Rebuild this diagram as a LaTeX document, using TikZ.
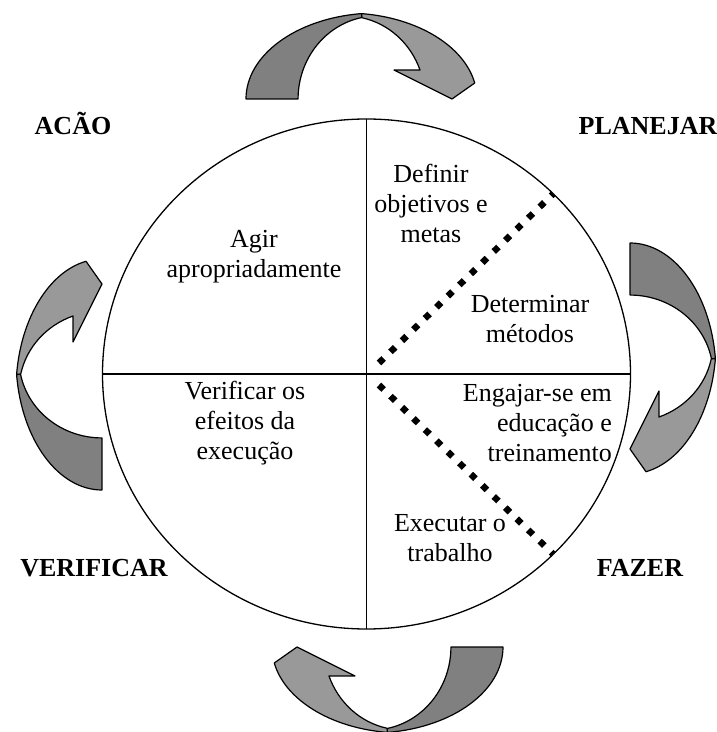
\documentclass[tikz,border=0pt]{standalone}
\usepackage{fontspec}
\setmainfont{Liberation Serif}

% one curved arrow of the cycle, drawn in its own frame
\newcommand{\turnarrow}{%
  \filldraw[darkband] (0,0) arc[start angle=180, end angle=96.8, x radius=131, y radius=86]
    -- (116,81.5) arc[start angle=101, end angle=180, x radius=79, y radius=83] -- cycle;
  \filldraw[lightband] (115.5,85.4) arc[start angle=83.2, end angle=10.7, x radius=131, y radius=86]
    -- (206,0) -- (148,29) -- (174.05,28.9)
    arc[start angle=20.4, end angle=78.3, x radius=79, y radius=83] -- cycle;
}

\begin{document}
\begin{tikzpicture}[x=1pt, y=1pt,
  darkband/.style={fill=black!50, draw=black, line width=1.2pt, line join=round},
  lightband/.style={fill=black!40, draw=black, line width=1.2pt, line join=round},
  txt/.style={font=\fontsize{26}{30}\selectfont, align=center, inner sep=0pt},
  phase/.style={font=\fontsize{26}{30}\selectfont\bfseries, inner sep=0pt, anchor=base},
  dots/.style={line width=6.5pt, dash pattern=on 6.5pt off 9.5pt}]
\useasboundingbox (0,0) rectangle (717,732);

% Circle and quadrants
\coordinate (c) at (366.5,358);
\coordinate (qt) at (366.5,613); \coordinate (qb) at (366.5,103);
\coordinate (ql) at (102.5,358); \coordinate (qr) at (630.5,358);
\draw[line width=1.3pt] (c) ellipse [x radius=264, y radius=255];
\draw[line width=1.3pt] (qt) -- (qb);
\draw[line width=1.3pt] (ql) -- (qr);

% Dotted dividers
\coordinate (d1) at (379,369); \coordinate (d2) at (553,538);
\coordinate (d3) at (379,347); \coordinate (d4) at (553,178);
\draw[dots] (d1) -- (d2);
\draw[dots] (d3) -- (d4);

% Arrows around the circle
\begin{scope}[shift={(246,633)}]
  \turnarrow
\end{scope}
\begin{scope}[shift={(630,489)}, rotate=-90]
  \turnarrow
\end{scope}
\begin{scope}[shift={(503,85)}, rotate=180]
  \turnarrow
\end{scope}
\begin{scope}[shift={(102,242)}, rotate=90]
  \turnarrow
\end{scope}

% Phases
\node[phase] (acao) at (73,597) {ACÃO};
\node[phase] (planejar) at (648,597) {PLANEJAR};
\node[phase] (verificar) at (94,155) {VERIFICAR};
\node[phase] (fazer) at (640,155) {FAZER};

% Steps
\node[txt] (agir) at (254,475) {Agir\\apropriadamente};
\node[txt] (definir) at (431,529) {Definir\\objetivos e\\metas};
\node[txt] (metodos) at (530,413) {Determinar\\métodos};
\node[txt, align=right, anchor=east] (engajar) at (612,309) {Engajar-se em\\educação e\\treinamento};
\node[txt] (executar) at (450,194) {Executar o\\trabalho};
\node[txt] (efeitos) at (245,309) {Verificar os\\efeitos da\\execução};
\end{tikzpicture}
\end{document}
